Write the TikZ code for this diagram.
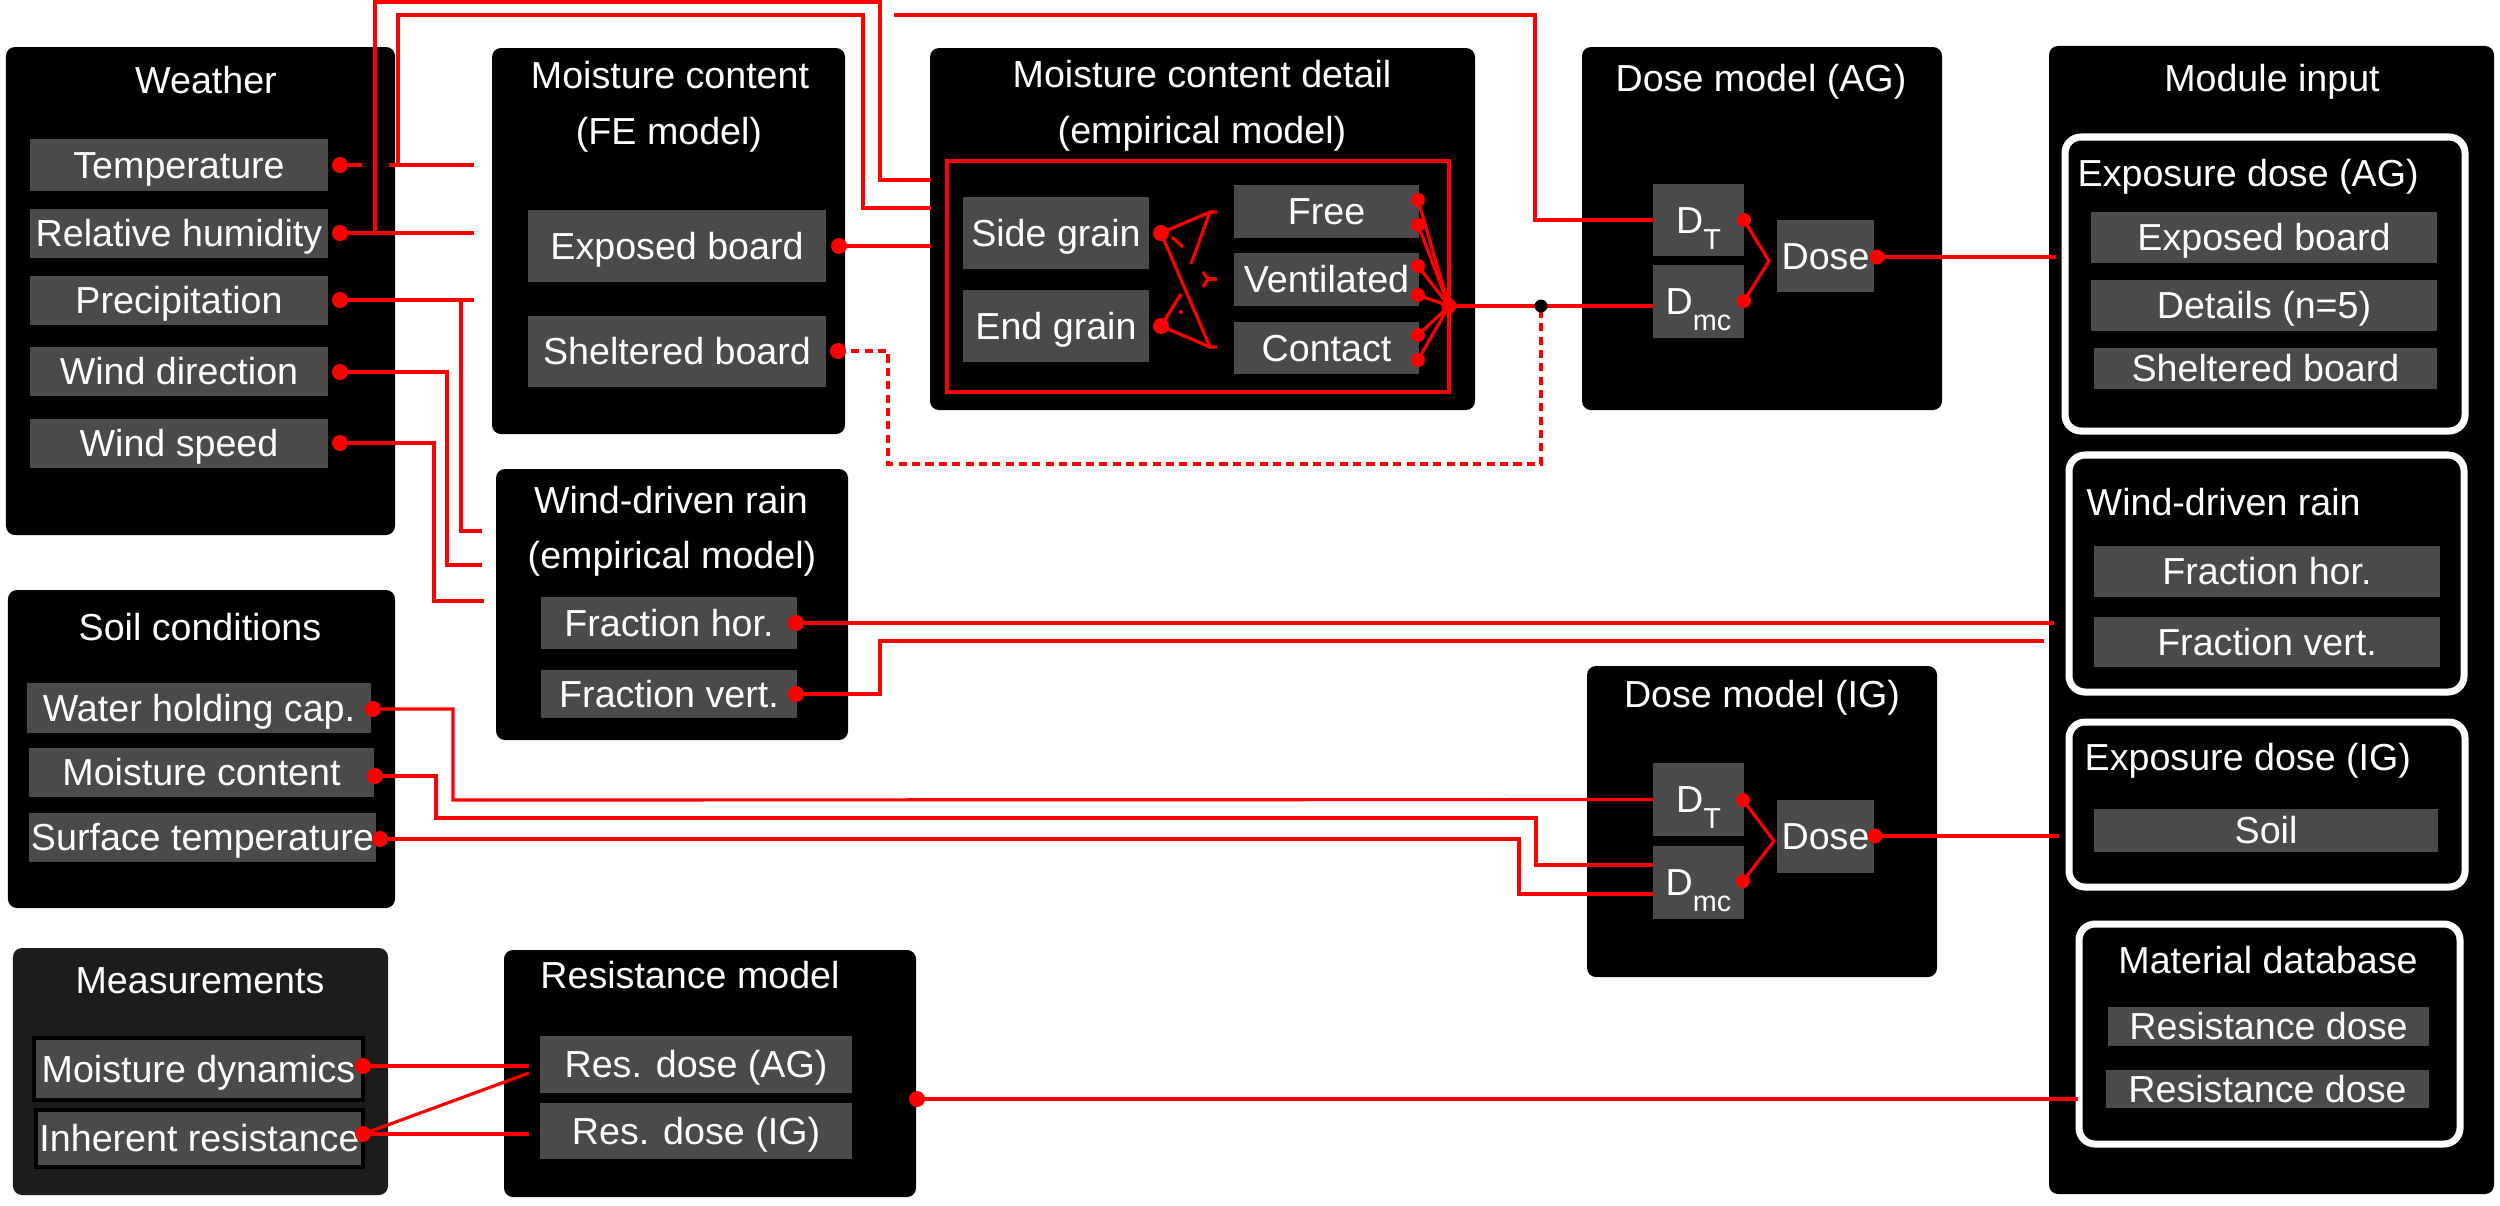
\documentclass[tikz,border=0pt]{standalone}
\usepackage{fontspec}
\setmainfont{Liberation Sans}
\definecolor{boxgray}{RGB}{74,74,74}
\definecolor{measgray}{RGB}{28,28,28}
\newcommand{\myfs}{\fontsize{10.7pt}{12.5pt}\selectfont}
\newcommand{\subfs}{\fontsize{8.2pt}{8.2pt}\selectfont}
\newcommand{\mkbox}[7]{%
  \pgfmathsetmacro\mkw{((#5)-(#3))*0.01}%
  \pgfmathsetmacro\mkh{((#6)-(#4))*0.01}%
  \node[#1, minimum width=\mkw cm, minimum height=\mkh cm] (#2) at ({((#3)+(#5))/2},{((#4)+(#6))/2}) {#7};}
\tikzset{
  blk/.style={rectangle, fill=black, rounded corners=0.09cm, inner sep=0pt, outer sep=0pt},
  msr/.style={rectangle, fill=measgray, rounded corners=0.09cm, inner sep=0pt, outer sep=0pt},
  gry/.style={rectangle, fill=boxgray, text=white, inner sep=0pt, outer sep=0pt, font=\myfs, text height=7.66pt, text depth=0pt},
  gryb/.style={gry, draw=black, line width=0.9pt},
  wht/.style={rectangle, draw=white, line width=2pt, rounded corners=0.16cm, inner sep=0pt},
  frm/.style={rectangle, draw=red, line width=0.9pt, inner sep=0pt},
  ttl/.style={text=white, inner sep=0pt, anchor=base, font=\myfs},
  wire/.style={red, line width=0.9pt},
  dwire/.style={wire, dash pattern=on 2.3pt off 1.5pt},
  rdot/.style={circle, fill=red, inner sep=0pt, minimum size=0.16cm},
  bdot/.style={circle, fill=black, inner sep=0pt, minimum size=0.13cm}
}
\begin{document}
\begin{tikzpicture}[x=0.01cm,y=-0.01cm]
\useasboundingbox (0,0) rectangle (2500,1205);

% ---------- container boxes ----------
\mkbox{blk}{weather}{6}{47}{395}{535}{}
\mkbox{blk}{fe}{492}{48}{845}{434}{}
\mkbox{blk}{detail}{930}{48}{1475}{410}{}
\mkbox{blk}{doseag}{1582}{47}{1942}{410}{}
\mkbox{blk}{module}{2049}{46}{2494}{1194}{}
\mkbox{blk}{wdr}{496}{469}{848}{740}{}
\mkbox{blk}{soil}{8}{590}{395}{908}{}
\mkbox{msr}{meas}{13}{948}{388}{1195}{}
\mkbox{blk}{resm}{504}{950}{916}{1197}{}
\mkbox{blk}{doseig}{1587}{666}{1937}{977}{}

% ---------- white frames in module input ----------
\mkbox{wht}{expag}{2065}{137}{2465}{431}{}
\mkbox{wht}{wdrm}{2069}{455}{2464}{692}{}
\mkbox{wht}{expig}{2069}{722}{2465}{887}{}
\mkbox{wht}{matdb}{2079}{924}{2460}{1144}{}

% ---------- titles ----------
\node[ttl] (weatherT) at (206,93) {Weather};
\node[ttl] (feT1) at (670,88) {Moisture content};
\node[ttl] (feT2) at (669,144) {(FE model)};
\node[ttl] (detT1) at (1202,87) {Moisture content detail};
\node[ttl] (detT2) at (1202,143) {(empirical model)};
\node[ttl] (agT) at (1761,91) {Dose model (AG)};
\node[ttl] (modT) at (2272,91) {Module input};
\node[ttl] (wdrT1) at (671,513) {Wind-driven rain};
\node[ttl] (wdrT2) at (672,568) {(empirical model)};
\node[ttl] (soilT) at (200,640) {Soil conditions};
\node[ttl] (measT) at (200,993) {Measurements};
\node[ttl] (resT) at (690,988) {Resistance model};
\node[ttl] (igT) at (1762,707) {Dose model (IG)};
\node[ttl, anchor=base west] (expagT) at (2077,186) {Exposure dose (AG)};
\node[ttl, anchor=base west] (wdrmT) at (2086,515) {Wind-driven rain};
\node[ttl, anchor=base west] (expigT) at (2084,770) {Exposure dose (IG)};
\node[ttl] (matT) at (2268,973) {Material database};

% ---------- gray item boxes ----------
\mkbox{gry}{temp}{30}{139}{328}{191}{Temperature}
\mkbox{gry}{rh}{30}{209}{328}{258}{Relative humidity}
\mkbox{gry}{precip}{30}{276}{328}{325}{Precipitation}
\mkbox{gry}{wdir}{30}{347}{328}{396}{Wind direction}
\mkbox{gry}{wspd}{30}{419}{328}{468}{Wind speed}

\mkbox{gry}{eb}{528}{210}{826}{282}{Exposed board}
\mkbox{gry}{sb}{528}{316}{826}{387}{Sheltered board}

\mkbox{frm}{grainframe}{947}{161}{1449}{392}{}
\mkbox{gry}{side}{963}{197}{1149}{269}{Side grain}
\mkbox{gry}{endg}{963}{290}{1149}{362}{End grain}
\mkbox{gry}{free}{1234}{185}{1419}{238}{Free}
\mkbox{gry}{vent}{1234}{253}{1419}{306}{Ventilated}
\mkbox{gry}{cont}{1234}{322}{1419}{374}{Contact}

\mkbox{gry}{dtag}{1653}{184}{1744}{256}{D\raisebox{-4.5pt}{\subfs T}}
\mkbox{gry}{dmcag}{1653}{265}{1744}{338}{D\raisebox{-4.3pt}{\subfs mc}}
\mkbox{gry}{dsag}{1777}{220}{1874}{292}{Dose}

\mkbox{gry}{mexp}{2091}{212}{2437}{263}{Exposed board}
\mkbox{gry}{mdet}{2091}{280}{2437}{331}{Details (n=5)}
\mkbox{gry}{mshel}{2094}{348}{2437}{389}{Sheltered board}
\mkbox{gry}{mfh}{2094}{546}{2440}{597}{Fraction hor.}
\mkbox{gry}{mfv}{2094}{617}{2440}{667}{Fraction vert.}
\mkbox{gry}{msoil}{2094}{809}{2438}{852}{Soil}
\mkbox{gry}{mrd1}{2108}{1007}{2429}{1046}{Resistance dose}
\mkbox{gry}{mrd2}{2106}{1070}{2429}{1108}{Resistance dose}

\mkbox{gry}{fh}{541}{597}{797}{649}{Fraction hor.}
\mkbox{gry}{fv}{541}{670}{797}{718}{Fraction vert.}

\mkbox{gry}{whc}{27}{683}{371}{733}{Water holding cap.}
\mkbox{gry}{smc}{29}{748}{374}{797}{Moisture content}
\mkbox{gry}{st}{29}{813}{376}{862}{Surface temperature}

\mkbox{gryb}{md}{34}{1038}{363}{1100}{Moisture dynamics}
\mkbox{gryb}{ir}{36}{1110}{363}{1167}{Inherent resistance}

\mkbox{gry}{rag}{540}{1036}{852}{1093}{Res. dose (AG)}
\mkbox{gry}{rig}{540}{1103}{852}{1159}{Res. dose (IG)}

\mkbox{gry}{dtig}{1653}{763}{1744}{836}{D\raisebox{-4.5pt}{\subfs T}}
\mkbox{gry}{dmcig}{1653}{846}{1744}{919}{D\raisebox{-4.3pt}{\subfs mc}}
\mkbox{gry}{dsig}{1777}{800}{1874}{873}{Dose}

% ---------- dots ----------
\node[rdot] (tdot) at (340,165) {};
\node[rdot] (rhdot) at (340,233) {};
\node[rdot] (pdot) at (340,300) {};
\node[rdot] (wddot) at (340,372) {};
\node[rdot] (wsdot) at (340,443) {};
\node[rdot] (ebdot) at (839,246) {};
\node[rdot] (sbdot) at (838,351) {};
\node[rdot] (sgdot) at (1161,233) {};
\node[rdot] (egdot) at (1161,326) {};
\node[rdot, minimum size=0.14cm] (f1) at (1418,200) {};
\node[rdot, minimum size=0.14cm] (f2) at (1418,225) {};
\node[rdot, minimum size=0.14cm] (v1) at (1418,266) {};
\node[rdot, minimum size=0.14cm] (v2) at (1418,295) {};
\node[rdot, minimum size=0.14cm] (c1) at (1418,335) {};
\node[rdot, minimum size=0.14cm] (c2) at (1418,360) {};
\node[rdot, minimum size=0.15cm] (fan) at (1449,306) {};
\node[rdot, minimum size=0.14cm] (dtagdot) at (1744,220) {};
\node[rdot, minimum size=0.14cm] (dmcagdot) at (1744,301) {};
\node[rdot, minimum size=0.15cm] (dsagdot) at (1877,257) {};
\node[rdot] (fhdot) at (796,623) {};
\node[rdot] (fvdot) at (796,694) {};
\node[rdot] (whcdot) at (373,709) {};
\node[rdot] (smcdot) at (375,776) {};
\node[rdot] (stdot) at (380,839) {};
\node[rdot] (mddot) at (363,1066) {};
\node[rdot] (irdot) at (363,1134) {};
\node[rdot] (resmdot) at (917,1099) {};
\node[rdot, minimum size=0.14cm] (dtigdot) at (1743,800) {};
\node[rdot, minimum size=0.14cm] (dmcigdot) at (1743,881) {};
\node[rdot, minimum size=0.15cm] (dsigdot) at (1875,836) {};

% ---------- free ends ----------
\coordinate (feIn1) at (474,165);
\coordinate (feIn2) at (474,233);
\coordinate (feIn3) at (474,300);
\coordinate (wdrIn1) at (482,531);
\coordinate (wdrIn2) at (482,565);
\coordinate (wdrIn3) at (484,601);
\coordinate (detIn1) at (931,180);
\coordinate (detIn2) at (931,208);
\coordinate (detIn3) at (931,246);
\coordinate (modIn1) at (2056,257);
\coordinate (modIn2) at (2054,623);
\coordinate (modIn3) at (2044,641);
\coordinate (modIn4) at (2059,836);
\coordinate (modIn5) at (2078,1099);
\coordinate (resIn1) at (529,1066);
\coordinate (resIn2) at (529,1073);
\coordinate (resIn3) at (529,1134);
\coordinate (igIn2) at (1653,865);
\coordinate (igIn3) at (1653,894);
\coordinate (tGapL) at (362,165);
\coordinate (tGapR) at (389,165);
\coordinate (gu) at (1210,212);
\coordinate (gl) at (1210,347);
\coordinate (gm) at (1208,279);

% ---------- weather wires ----------
\draw[wire] (tdot.center) -- (tGapL);
\draw[wire] (tGapR) -- (feIn1);
\draw[wire] (398,165) -- (398,15) -- (863,15) -- (863,208) -- (detIn2);
\draw[wire] (894,15) -- (1535,15) -- (1535,220) -- (dtag.west);
\draw[wire] (rhdot.center) -- (feIn2);
\draw[wire] (375,233) -- (375,2) -- (880,2) -- (880,180) -- (detIn1);
\draw[wire] (pdot.center) -- (feIn3);
\draw[wire] (461,300) -- (461,531) -- (wdrIn1);
\draw[wire] (wddot.center) -- (447,372) -- (447,565) -- (wdrIn2);
\draw[wire] (wsdot.center) -- (434,443) -- (434,601) -- (wdrIn3);

% ---------- FE model wires ----------
\draw[wire] (ebdot.center) -- (detIn3);
\draw[dwire] (sbdot.center) -- (888,351) -- (888,464) -- (1541,464) -- (1541,306);

% ---------- grain connectors ----------
\draw[wire] (sgdot.center) -- (gu) -- (1217,212);
\draw[wire] (gu) -- (1191,264);
\draw[wire] (sgdot.center) -- (gl) -- (1217,347);
\draw[wire] (egdot.center) -- (gl);
\draw[wire] (egdot.center) -- (1181,294);
\draw[wire] (1172,237) -- (1183,247);
\draw[wire] (1203,272) -- (gm) -- (1203,287);
\draw[wire] (gm) -- (1217,279);
\fill[red] (1181,312) circle (0.02cm);

% ---------- fan to dose model ----------
\foreach \n in {f1,f2,v1,v2,c1,c2} \draw[wire] (\n.center) -- (fan.center);
\draw[wire] (fan.center) -- (dmcag.west |- fan.center);
\node[bdot] (junc) at (1541,306) {};

% ---------- dose model AG ----------
\draw[wire] (dtagdot.center) -- (1769,261) -- (dmcagdot.center);
\draw[wire] (dsagdot.center) -- (modIn1);

% ---------- wind-driven rain ----------
\draw[wire] (fhdot.center) -- (modIn2);
\draw[wire] (fvdot.center) -- (880,694) -- (880,641) -- (modIn3);

% ---------- soil ----------
\draw[wire] (whcdot.center) -- (453,709) -- (453,800) -- (dtig.west);
\draw[wire] (smcdot.center) -- (436,776) -- (436,818) -- (1536,818) -- (1536,865) -- (igIn2);
\draw[wire] (stdot.center) -- (1519,839) -- (1519,894) -- (igIn3);

% ---------- dose model IG ----------
\draw[wire] (dtigdot.center) -- (1774,841) -- (dmcigdot.center);
\draw[wire] (dsigdot.center) -- (modIn4);

% ---------- measurements / resistance ----------
\draw[wire] (mddot.center) -- (resIn1);
\draw[wire] (irdot.center) -- (resIn3);
\draw[wire] (irdot.center) -- (resIn2);
\draw[wire] (resmdot.center) -- (modIn5);

\end{tikzpicture}
\end{document}
